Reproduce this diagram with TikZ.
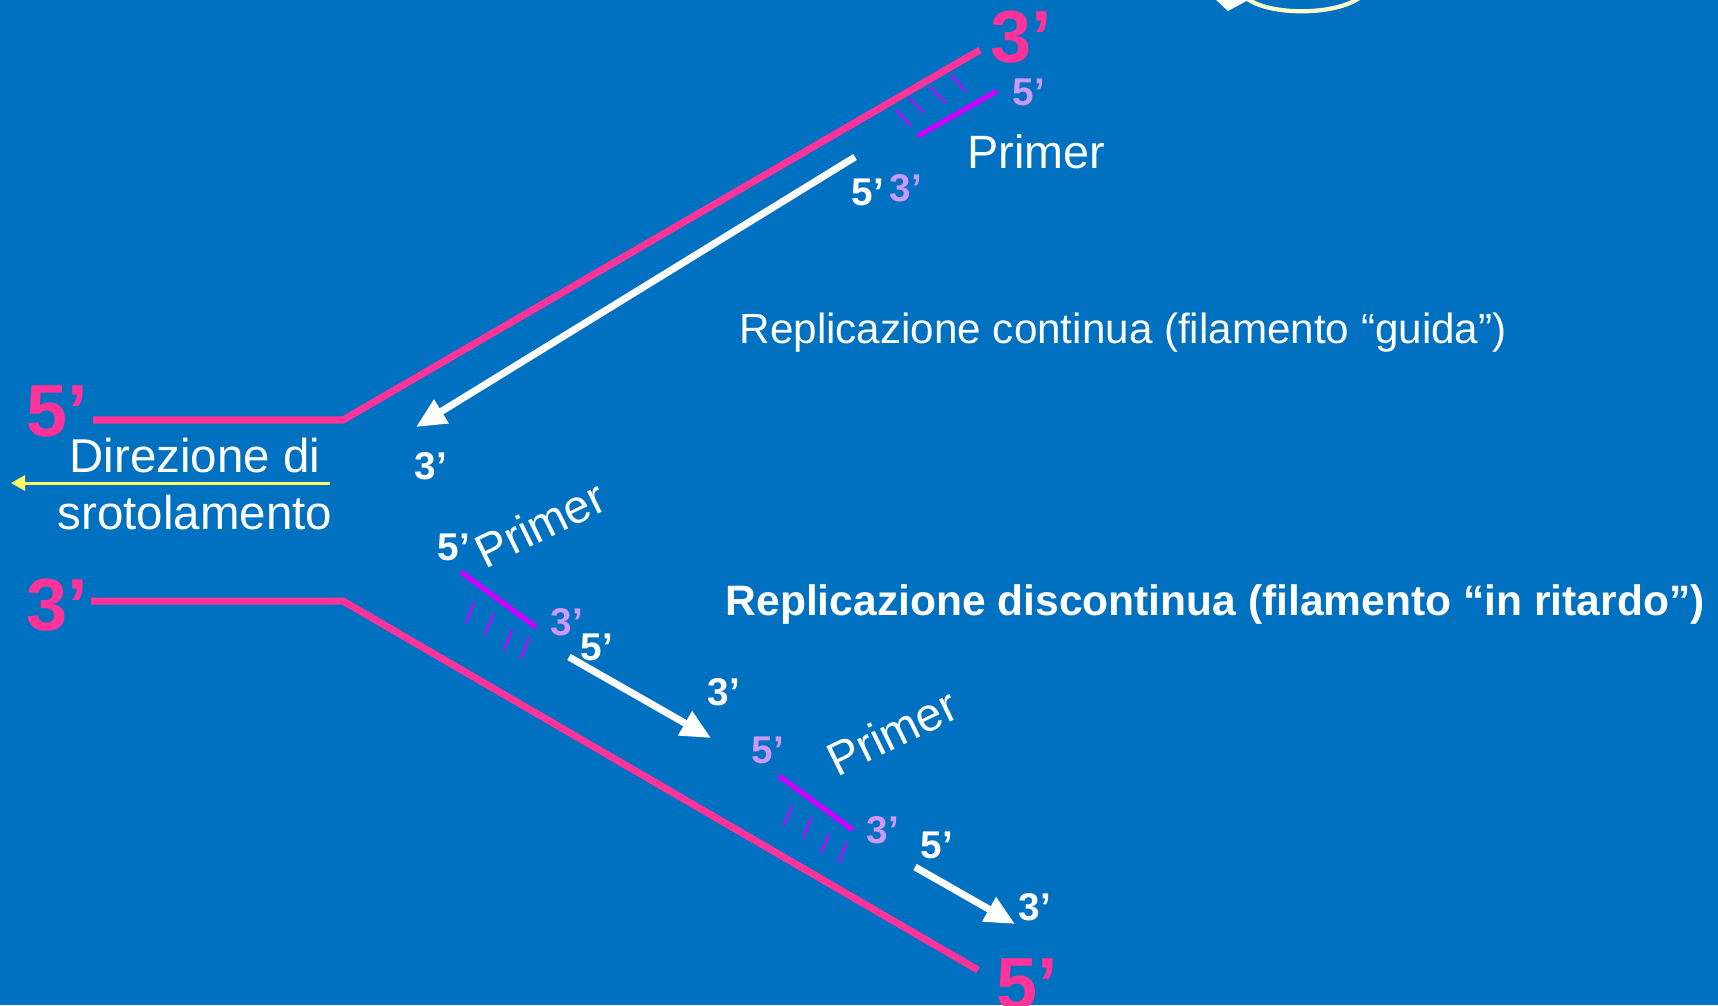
\documentclass[tikz,border=0pt]{standalone}
\usepackage{fontspec}
\setmainfont{Liberation Sans}
\definecolor{rpblue}{RGB}{0,112,192}
\definecolor{rppink}{RGB}{255,51,153}
\definecolor{rpmagenta}{RGB}{204,0,255}
\definecolor{rplilac}{RGB}{204,153,255}
\definecolor{rpyellow}{RGB}{255,255,102}
\definecolor{rpcream}{RGB}{255,255,204}
\usetikzlibrary{arrows.meta}

\begin{document}
\begin{tikzpicture}[x=0.01cm, y=-0.01cm,
        endbig/.style={inner sep=0pt, text=rppink,
                       font=\fontsize{21}{25}\selectfont\bfseries},
        endsmall/.style={inner sep=0pt, text=white,
                         font=\fontsize{11}{13}\selectfont\bfseries},
        primend/.style={endsmall, text=rplilac},
        primlabel/.style={inner sep=0pt, text=white,
                          font=\fontsize{13.3}{16}\selectfont},
        strand/.style={rppink, line width=2pt},
        primer/.style={rpmagenta, line width=1.5pt},
        bond/.style={rpmagenta, line width=0.6pt},
        newdna/.style={white, line width=2pt, -{Triangle[length=8.5pt, width=7.5pt]}},
        unwind/.style={rpyellow, line width=0.85pt, -{Triangle[length=4pt, width=4.3pt]}}
      ]
        \useasboundingbox (0,0) rectangle (1718,1005);
        \clip (0,0) rectangle (1718,1005);
        \fill[rpblue] (0,0) rectangle (1718,1005);

        % parental strands
        \coordinate (t5) at (93,420);   \coordinate (tfork) at (343,420);
        \coordinate (t3) at (980,50);
        \coordinate (b3) at (91,601);   \coordinate (bfork) at (343,601);
        \coordinate (b5) at (978,970);
        \draw[strand] (t5) -- (tfork) -- (t3);
        \draw[strand] (b3) -- (bfork) -- (b5);

        \node[endbig] (top5)  at (57,411)   {5’};
        \node[endbig] (bot3)  at (57,605)   {3’};
        \node[endbig] (top3)  at (1021,37)  {3’};
        \node[endbig] (bot5)  at (1027,984) {5’};

        % leading strand
        \coordinate (p1a) at (918,136); \coordinate (p1b) at (997,91);
        \draw[primer] (p1a) -- (p1b);
        \draw[bond] (896,110) -- (911,126) (909,98) -- (924,113)
                    (930,87) -- (946,103) (951,75) -- (966,91);
        \node[primend] (p1five)  at (1029,92) {5’};
        \node[primend] (p1three) at (906,188) {3’};
        \node[primlabel, anchor=base west] (p1name) at (967,168) {Primer};

        \coordinate (lead5) at (855,157); \coordinate (lead3) at (416,427);
        \draw[newdna] (lead5) -- (lead3);
        \node[endsmall] (lead5lab) at (868,192) {5’};
        \node[endsmall] (lead3lab) at (431,466) {3’};

        \node[primlabel, font=\fontsize{12}{14.5}\selectfont, anchor=base west]
          (cont) at (739,343) {Replicazione continua (filamento “guida”)};

        % unwinding
        \coordinate (unw) at (330,483); \coordinate (unwtip) at (11,483);
        \draw[unwind] (unw) -- (unwtip);
        \node[primlabel, font=\fontsize{13.5}{16.2}\selectfont, align=center, anchor=north]
          (unwlab) at (195,437) {Direzione di\\srotolamento};

        % lagging strand
        \coordinate (p2a) at (461,572); \coordinate (p2b) at (536,627);
        \draw[primer] (p2a) -- (p2b);
        \draw[bond] (474,602) -- (466,623) (494,614) -- (485,634)
                    (512,630) -- (504,650) (529,638) -- (521,658);
        \node[endsmall] (p2five)  at (454,547) {5’};
        \node[primend]  (p2three) at (567,622) {3’};
        \node[primlabel, rotate=26] (p2name) at (540,524) {Primer};

        \coordinate (ok1a) at (569,657); \coordinate (ok1b) at (711,738);
        \draw[newdna] (ok1a) -- (ok1b);
        \node[endsmall] (ok1five)  at (597,647) {5’};
        \node[endsmall] (ok1three) at (724,692) {3’};

        \coordinate (p3a) at (779,776); \coordinate (p3b) at (853,830);
        \draw[primer] (p3a) -- (p3b);
        \draw[bond] (792,806) -- (784,825) (811,818) -- (803,838)
                    (829,834) -- (821,853) (847,842) -- (839,862);
        \node[primend] (p3five)  at (768,750) {5’};
        \node[primend] (p3three) at (883,830) {3’};
        \node[primlabel, rotate=26] (p3name) at (892,732) {Primer};

        \coordinate (ok2a) at (915,867); \coordinate (ok2b) at (1015,924);
        \draw[newdna] (ok2a) -- (ok2b);
        \node[endsmall] (ok2five)  at (937,845)  {5’};
        \node[endsmall] (ok2three) at (1035,907) {3’};

        \node[primlabel, font=\fontsize{12.1}{14.5}\selectfont\bfseries, anchor=base west]
          (discont) at (725,615) {Replicazione discontinua (filamento “in ritardo”)};

        % helicase (cut off at the top)
        \draw[rpcream, line width=1.2pt] (1366,-8) .. controls (1345,17) and (1265,17) .. (1244,-4);
        \fill[white] (1214,-2) -- (1252,-2) -- (1228,11) -- cycle;
      \end{tikzpicture}
\end{document}
